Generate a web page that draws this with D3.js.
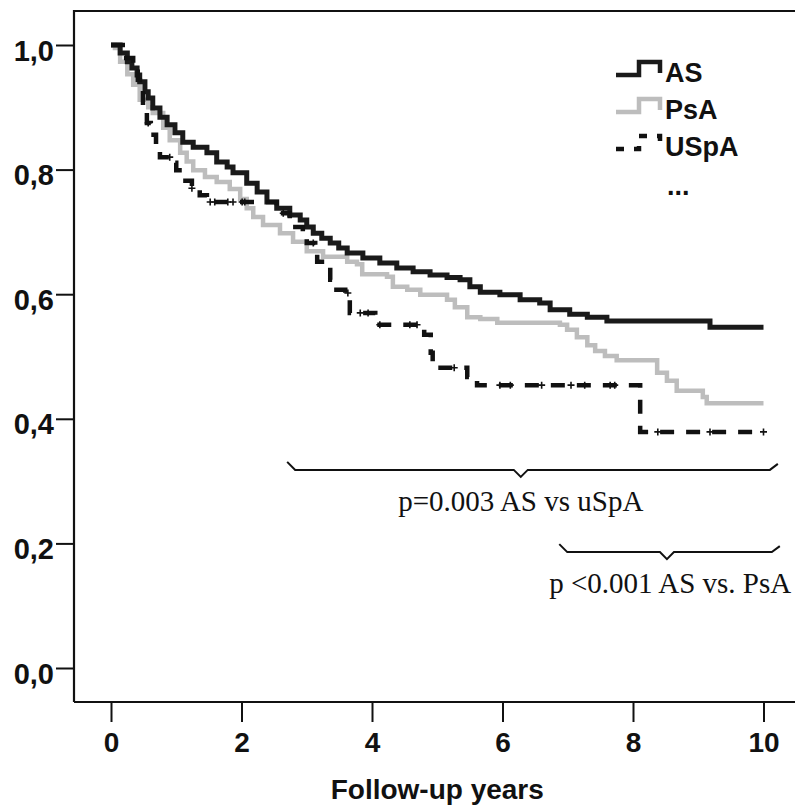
<!DOCTYPE html>
<meta charset="utf-8">
<script src="https://d3js.org/d3.v7.min.js"></script>
<style>
  body { margin: 0; background: #fff; }
</style>
<div id="km"></div>
<script>

// follow-up years and survival
var asT  = [0, 0.14, 0.25, 0.32, 0.40, 0.44, 0.52, 0.57, 0.64, 0.75, 0.86, 0.98, 1.10, 1.26, 1.47, 1.62, 1.78, 1.87, 2.08, 2.24, 2.39, 2.54, 2.74, 2.90, 3.00, 3.10, 3.23, 3.36, 3.49, 3.62, 3.86, 4.12, 4.38, 4.63, 4.89, 5.15, 5.35, 5.50, 5.66, 5.96, 6.27, 6.57, 6.73, 7.03, 7.30, 7.60, 9.18, 10.0];
var asS  = [1.0, 0.987, 0.973, 0.963, 0.952, 0.941, 0.925, 0.915, 0.899, 0.884, 0.872, 0.859, 0.844, 0.836, 0.827, 0.812, 0.804, 0.795, 0.778, 0.764, 0.748, 0.738, 0.727, 0.719, 0.708, 0.698, 0.690, 0.682, 0.674, 0.666, 0.658, 0.650, 0.642, 0.636, 0.631, 0.627, 0.623, 0.612, 0.603, 0.599, 0.591, 0.586, 0.575, 0.568, 0.563, 0.557, 0.547, 0.547];

var psaT = [0, 0.06, 0.14, 0.25, 0.34, 0.44, 0.57, 0.64, 0.80, 0.90, 1.06, 1.16, 1.26, 1.44, 1.62, 1.82, 1.98, 2.08, 2.18, 2.33, 2.59, 2.79, 3.00, 3.25, 3.62, 3.77, 3.85, 4.23, 4.32, 4.54, 4.74, 5.15, 5.27, 5.46, 5.66, 5.92, 6.88, 6.99, 7.14, 7.30, 7.42, 7.57, 7.75, 8.34, 8.37, 8.52, 8.67, 9.07, 9.13, 10.0];
var psaS = [1.0, 0.995, 0.973, 0.953, 0.936, 0.912, 0.900, 0.891, 0.867, 0.847, 0.827, 0.813, 0.799, 0.788, 0.780, 0.769, 0.753, 0.738, 0.724, 0.711, 0.698, 0.684, 0.669, 0.660, 0.652, 0.648, 0.632, 0.628, 0.612, 0.607, 0.599, 0.591, 0.579, 0.563, 0.560, 0.554, 0.551, 0.543, 0.531, 0.518, 0.509, 0.501, 0.494, 0.494, 0.474, 0.461, 0.445, 0.435, 0.425, 0.425];

var uspaT = [0, 0.18, 0.34, 0.41, 0.49, 0.55, 0.61, 0.69, 0.75, 0.95, 1.00, 1.10, 1.24, 1.36, 1.47, 2.54, 2.74, 2.94, 3.00, 3.13, 3.16, 3.36, 3.40, 3.59, 3.66, 4.05, 4.80, 4.90, 4.93, 5.46, 5.61, 8.11, 10.0];
var uspaS = [1.0, 0.979, 0.957, 0.944, 0.900, 0.875, 0.856, 0.831, 0.820, 0.811, 0.799, 0.782, 0.770, 0.759, 0.748, 0.730, 0.708, 0.698, 0.682, 0.666, 0.652, 0.623, 0.607, 0.602, 0.570, 0.551, 0.535, 0.506, 0.482, 0.467, 0.454, 0.379, 0.379];
var uspaCensor = [0.57, 0.90, 1.24, 1.52, 1.59, 1.79, 1.87, 2.01, 2.05, 2.64, 3.10, 3.63, 3.82, 3.94, 4.12, 4.58, 4.69, 5.26, 5.96, 6.12, 6.60, 7.05, 7.26, 7.65, 7.72, 8.38, 9.18, 10.0];

var xTicks = [0, 2, 4, 6, 8, 10];
var yTicks = [0, 0.2, 0.4, 0.6, 0.8, 1.0];
var groups = ["AS", "PsA", "USpA"];

// frame of the plot
var margin = {top: 11, left: 74},
    width = 726, height = 691;

var svg = d3.select("#km")
  .append("svg")
    .attr("width", 795)
    .attr("height", 808)
  .append("g")
    .attr("transform", "translate(" + margin.left + "," + margin.top + ")");

var x = d3.scaleLinear().domain([0, 10]).range([37, 689.5]);
var y = d3.scaleLinear().domain([0, 1]).range([657, 34]);

// box
svg.append("path")
  .attr("d", "M0," + height + "V0H" + width)
  .attr("fill", "none")
  .attr("stroke", "#111")
  .attr("stroke-width", 2.2);
svg.append("line")
  .attr("x1", 0).attr("x2", width)
  .attr("y1", height).attr("y2", height)
  .attr("stroke", "#111").attr("stroke-width", 2.2);

// X axis
var gx = svg.append("g")
  .attr("transform", "translate(0," + height + ")")
  .call(d3.axisBottom(x).tickValues(xTicks).tickSize(20).tickSizeOuter(0));
gx.select(".domain").remove();
gx.selectAll("line").attr("stroke", "#111").attr("stroke-width", 2);
gx.selectAll("text")
  .attr("y", 50).attr("dy", 0)
  .style("font-family", "Liberation Sans, Arial, sans-serif")
  .style("font-weight", "bold")
  .style("font-size", "28px")
  .attr("fill", "#111");

// Y axis
var gy = svg.append("g")
  .call(d3.axisLeft(y).tickValues(yTicks).tickSize(18).tickSizeOuter(0)
    .tickFormat(function(d) { return d3.format(".1f")(d).replace(".", ","); }));
gy.select(".domain").remove();
gy.selectAll("line").attr("stroke", "#111").attr("stroke-width", 2);
gy.selectAll("text")
  .attr("x", -20).attr("dy", 15)
  .style("font-family", "Liberation Sans, Arial, sans-serif")
  .style("font-weight", "bold")
  .style("font-size", "29px")
  .attr("fill", "#111");

// X axis title
svg.append("text")
  .attr("x", x(5))
  .attr("y", 788)
  .attr("text-anchor", "middle")
  .style("font-family", "Liberation Sans, Arial, sans-serif")
  .style("font-weight", "bold")
  .style("font-size", "28px")
  .attr("fill", "#111")
  .text("Follow-up years");

// step curves
var step = d3.line()
  .x(function(d) { return x(d[0]); })
  .y(function(d) { return y(d[1]); })
  .curve(d3.curveStepAfter);

function pairs(t, s) { return t.map(function(v, i) { return [v, s[i]]; }); }

svg.append("path")
  .attr("d", step(pairs(psaT, psaS)))
  .attr("fill", "none")
  .attr("stroke", "#bdbdbd")
  .attr("stroke-width", 4.5);

svg.append("path")
  .attr("d", step(pairs(asT, asS)))
  .attr("fill", "none")
  .attr("stroke", "#1a1a1a")
  .attr("stroke-width", 5);

svg.append("path")
  .attr("d", step(pairs(uspaT, uspaS)))
  .attr("fill", "none")
  .attr("stroke", "#111")
  .attr("stroke-width", 4.5)
  .attr("stroke-dasharray", "14,12");

// censored cases on the USpA curve
function survAt(t, ts, ss) {
  var i = d3.bisectRight(ts, t) - 1;
  return ss[Math.max(0, i)];
}
svg.selectAll(".cens")
  .data(uspaCensor)
  .enter()
  .append("path")
    .attr("class", "cens")
    .attr("transform", function(d) { return "translate(" + x(d) + "," + y(survAt(d, uspaT, uspaS)) + ")"; })
    .attr("d", "M-3.5,0H3.5M0,-3.5V3.5")
    .attr("stroke", "#111")
    .attr("stroke-width", 1.6);

// legend
var legendStyles = [
  {stroke: "#1a1a1a", dash: null},
  {stroke: "#bdbdbd", dash: null},
  {stroke: "#111", dash: "8,10"}
];
groups.forEach(function(g, i) {
  var ly = 51 + i * 37;
  svg.append("path")
    .attr("d", "M542," + (ly + 13) + "H565V" + ly + "H586V" + (ly + 11))
    .attr("fill", "none")
    .attr("stroke", legendStyles[i].stroke)
    .attr("stroke-width", 4.5)
    .attr("stroke-dasharray", legendStyles[i].dash);
  svg.append("text")
    .attr("x", 591)
    .attr("y", ly + 20)
    .style("font-family", "Liberation Sans, Arial, sans-serif")
    .style("font-weight", "bold")
    .style("font-size", "27px")
    .attr("fill", "#111")
    .text(g);
});
svg.append("text")
  .attr("x", 593).attr("y", 184)
  .style("font-family", "Liberation Sans, Arial, sans-serif")
  .style("font-weight", "bold")
  .style("font-size", "27px")
  .attr("fill", "#111")
  .text("...");

// log-rank brackets
function brace(t0, t1, tm, s) {
  var yb = y(s), a = x(t0), b = x(t1), m = x(tm);
  return "M" + a + "," + (yb - 8) + "L" + (a + 8) + "," + yb +
         "H" + (m - 7) + "L" + m + "," + (yb + 7) + "L" + (m + 7) + "," + yb +
         "H" + (b - 8) + "L" + b + "," + (yb - 6);
}
svg.append("path")
  .attr("d", brace(2.70, 10.22, 6.28, 0.318))
  .attr("fill", "none").attr("stroke", "#111").attr("stroke-width", 2);
svg.append("path")
  .attr("d", brace(6.87, 10.25, 8.52, 0.186))
  .attr("fill", "none").attr("stroke", "#111").attr("stroke-width", 2);

svg.append("text")
  .attr("x", x(6.28)).attr("y", y(0.252))
  .attr("text-anchor", "middle")
  .style("font-family", "Liberation Serif, Times New Roman, serif")
  .style("font-size", "29px")
  .attr("fill", "#111")
  .text("p=0.003 AS vs uSpA");
svg.append("text")
  .attr("x", x(8.57)).attr("y", y(0.120))
  .attr("text-anchor", "middle")
  .style("font-family", "Liberation Serif, Times New Roman, serif")
  .style("font-size", "29px")
  .attr("fill", "#111")
  .text("p <0.001 AS vs. PsA");

</script>
